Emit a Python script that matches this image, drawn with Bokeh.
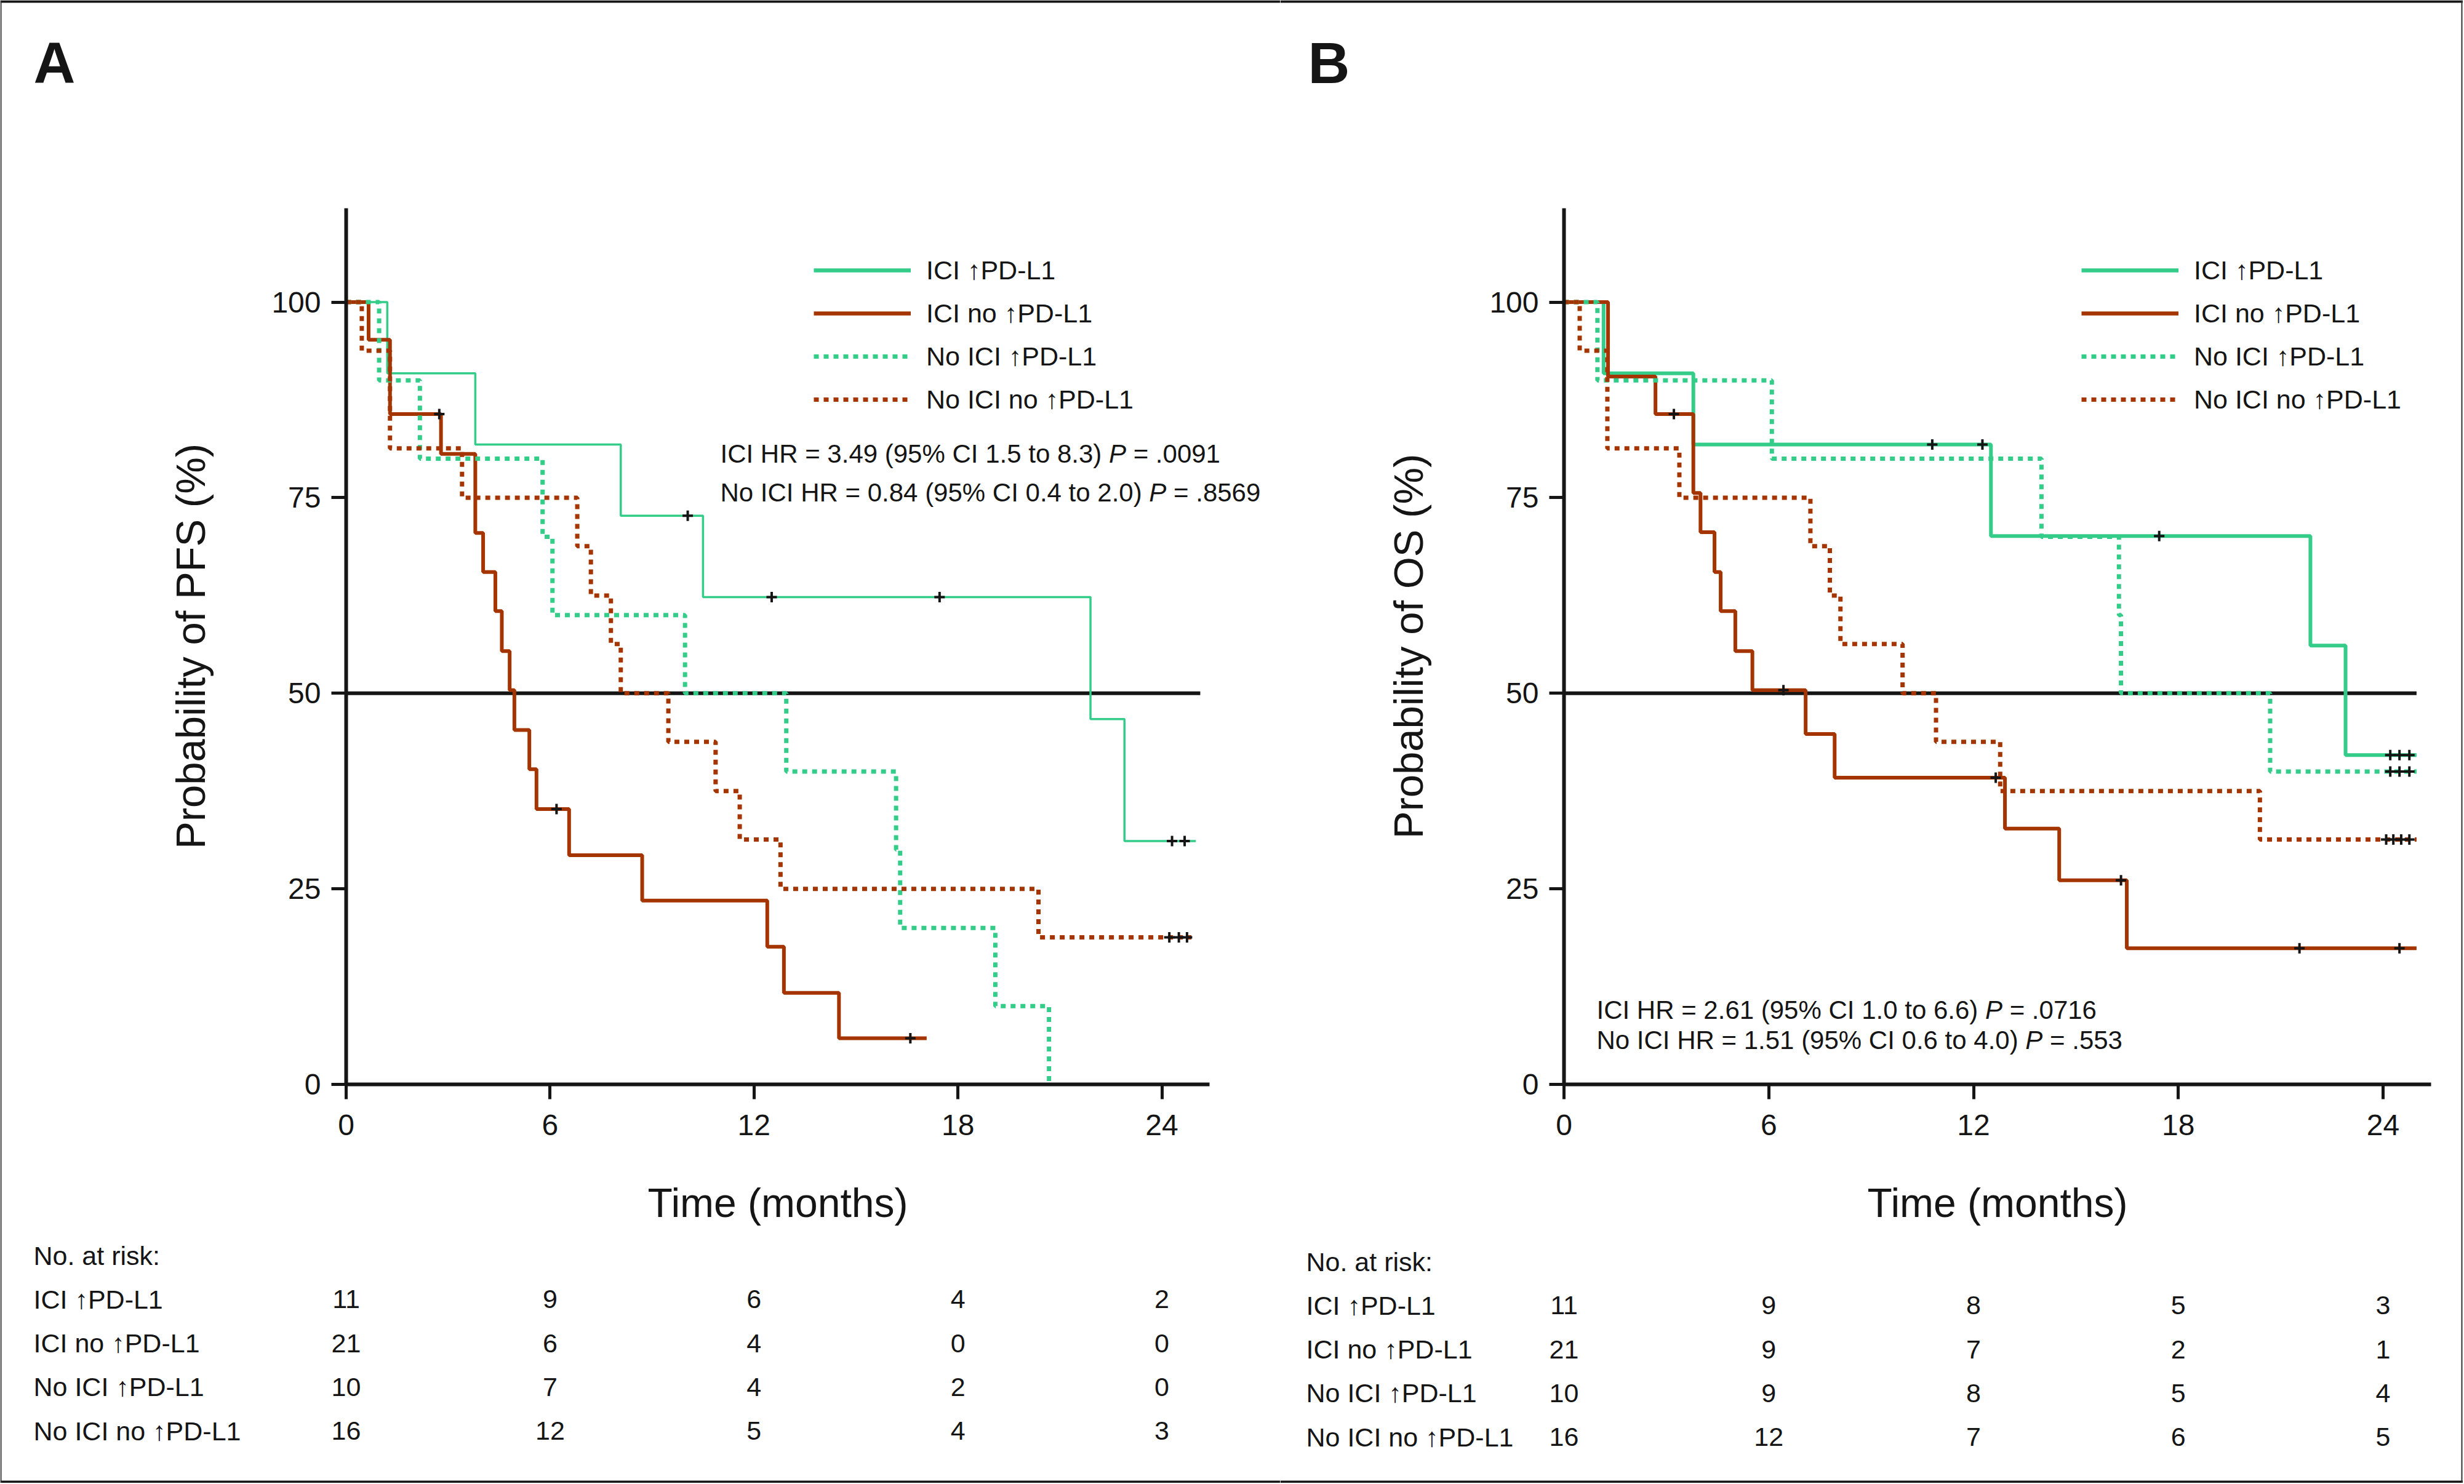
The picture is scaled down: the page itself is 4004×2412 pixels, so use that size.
from bokeh.plotting import figure
from bokeh.models import Range1d, FixedTicker, Legend, LegendItem, Label, ColumnDataSource, Span
from bokeh.layouts import row
from bokeh.embed import file_html
from bokeh.resources import INLINE
from bokeh.core.properties import value

# ---------------------------------------------------------------- data
TICKS_X = [0, 6, 12, 18, 24]
TICKS_Y = [0, 25, 50, 75, 100]
GROUPS = ["ICI \u2191PD-L1", "ICI no \u2191PD-L1", "No ICI \u2191PD-L1", "No ICI no \u2191PD-L1"]
RISK_HEADER = "No. at risk:"
RISK_TIMES = [0, 6, 12, 18, 24]

# Panel A - progression-free survival (months, %)
pfs_ici_hi_t = [1.21, 3.80, 8.08, 10.50, 21.90, 22.90]
pfs_ici_hi_s = [90.9, 81.8, 72.7, 62.3, 46.7, 31.1]
pfs_ici_hi_c = [10.05, 12.52, 17.46, 24.30, 24.67]
pfs_ici_hi_end = 25.0

pfs_ici_lo_t = [0.66, 1.29, 2.79, 3.80, 4.03, 4.39, 4.58, 4.81, 4.95, 5.39, 5.60, 6.56, 8.71, 12.39, 12.88, 14.50]
pfs_ici_lo_s = [95.2, 85.7, 80.6, 70.5, 65.5, 60.5, 55.4, 50.4, 45.3, 40.3, 35.2, 29.3, 23.5, 17.6, 11.7, 5.9]
pfs_ici_lo_c = [2.74, 6.19, 16.60]
pfs_ici_lo_end = 17.08

pfs_no_hi_t = [0.97, 2.17, 5.78, 6.07, 9.97, 12.95, 16.18, 16.30, 19.10, 20.68]
pfs_no_hi_s = [90.0, 80.0, 70.0, 60.0, 50.0, 40.0, 30.0, 20.0, 10.0, 0.0]
pfs_no_hi_c = []
pfs_no_hi_end = 20.68

pfs_no_lo_t = [0.46, 1.29, 3.41, 6.80, 7.20, 7.79, 8.08, 9.48, 10.87, 11.58, 12.78, 20.37]
pfs_no_lo_s = [93.8, 81.3, 75.0, 68.8, 62.5, 56.3, 50.0, 43.8, 37.5, 31.3, 25.0, 18.8]
pfs_no_lo_c = [24.22, 24.50, 24.74]
pfs_no_lo_end = 24.87

pfs_risk = [[11, 9, 6, 4, 2], [21, 6, 4, 0, 0], [10, 7, 4, 2, 0], [16, 12, 5, 4, 3]]
pfs_hr = [("ICI HR = 3.49 (95% CI 1.5 to 8.3)", "= .0091"),
          ("No ICI HR = 0.84 (95% CI 0.4 to 2.0)", "= .8569")]
pfs_ref_end = 25.13

# Panel B - overall survival (months, %)
os_ici_hi_t = [1.16, 3.79, 12.51, 21.87, 22.90]
os_ici_hi_s = [90.9, 81.8, 70.1, 56.1, 42.1]
os_ici_hi_c = [10.79, 12.26, 17.44, 24.21, 24.48, 24.77]
os_ici_hi_end = 24.98

os_ici_lo_t = [1.29, 2.68, 3.79, 4.00, 4.41, 4.59, 5.02, 5.52, 7.08, 7.93, 12.92, 14.51, 16.49]
os_ici_lo_s = [90.5, 85.7, 75.6, 70.6, 65.5, 60.5, 55.4, 50.4, 44.8, 39.2, 32.7, 26.1, 17.4]
os_ici_lo_c = [3.22, 6.43, 12.65, 16.32, 21.55, 24.48]
os_ici_lo_end = 24.98

os_no_hi_t = [0.98, 6.09, 13.99, 16.26, 16.32, 20.69]
os_no_hi_s = [90.0, 80.0, 70.0, 60.0, 50.0, 40.0]
os_no_hi_c = [24.21, 24.48, 24.77]
os_no_hi_end = 24.98

os_no_lo_t = [0.46, 1.27, 3.38, 7.22, 7.79, 8.10, 9.92, 10.90, 12.78, 20.39]
os_no_lo_s = [93.8, 81.3, 75.0, 68.8, 62.5, 56.3, 50.0, 43.8, 37.5, 31.3]
os_no_lo_c = [24.09, 24.30, 24.53, 24.77]
os_no_lo_end = 24.98

os_risk = [[11, 9, 8, 5, 3], [21, 9, 7, 2, 1], [10, 9, 8, 5, 4], [16, 12, 7, 6, 5]]
os_hr = [("ICI HR = 2.61 (95% CI 1.0 to 6.6)", "= .0716"),
         ("No ICI HR = 1.51 (95% CI 0.6 to 4.0)", "= .553")]
os_ref_end = 24.98

# ---------------------------------------------------------------- style / layout (page pixels)
FONT = "Liberation Sans"
GREEN = "#33CC88"
RED = "#A53500"
INK = "#151515"
X_MAX, Y_MAX = 25.4, 112
PAGE_TOP, FIG_H = 0, 2410
ORIGIN_Y = 1762          # page y of 0 %
PX_PER_PCT = 12.714
TOTAL_W = 4002

ARIAL = {' ': 278, '(': 333, ')': 333, '%': 889, '.': 278, '=': 584, 'C': 722, 'H': 722,
         'I': 278, 'N': 722, 'R': 722, 'o': 556, 't': 278, 'P': 667}


def text_w(s, size):
    return sum(ARIAL.get(ch, 556) for ch in s) * size / 1000.0


def surv_at(ts, ss, t):
    s = 100.0
    for ti, si in zip(ts, ss):
        if ti <= t:
            s = si
    return s


def panel(letter, letter_px, page_left, width, origin_x, px_per_month, ylabel, series, ref_end,
          risk, hr_lines, hr_pos, legend_pos, risk_pos):
    def dx(px):
        return (px - origin_x) / px_per_month

    def dy(py):
        return (ORIGIN_Y - py) / PX_PER_PCT

    p = figure(width=width, height=FIG_H,
               x_range=Range1d(dx(page_left), dx(page_left + width)),
               y_range=Range1d(dy(PAGE_TOP + FIG_H), dy(PAGE_TOP)),
               output_backend="svg", toolbar_location=None,
               min_border_left=0, min_border_right=0, min_border_top=0, min_border_bottom=0)
    p.outline_line_color = None
    p.grid.visible = False
    p.background_fill_color = "white"
    p.border_fill_color = "white"

    # picture frame (thick top/bottom, thin sides)
    p.add_layout(Span(location=dy(2), dimension="width", line_color=INK, line_width=4))
    p.add_layout(Span(location=dy(2408), dimension="width", line_color=INK, line_width=4))
    if page_left == 0:
        p.add_layout(Span(location=dx(1), dimension="height", line_color="#333333", line_width=2))
    else:
        p.add_layout(Span(location=dx(TOTAL_W - 2), dimension="height", line_color="#333333", line_width=2))

    # axes crossing at the origin
    p.xaxis.fixed_location = 0
    p.yaxis.fixed_location = 0
    p.xaxis.bounds = (0, X_MAX)
    p.yaxis.bounds = (0, Y_MAX)
    p.xaxis.ticker = FixedTicker(ticks=TICKS_X)
    p.yaxis.ticker = FixedTicker(ticks=TICKS_Y)
    p.xaxis.axis_label = "Time (months)"
    p.yaxis.axis_label = ylabel
    for ax in (p.xaxis, p.yaxis):
        ax.axis_line_width = 6
        ax.axis_line_color = INK
        ax.major_tick_line_width = 5
        ax.major_tick_line_color = INK
        ax.major_tick_out = 24
        ax.major_tick_in = 0
        ax.minor_tick_line_color = None
        ax.major_label_text_font = FONT
        ax.major_label_text_font_size = "48px"
        ax.major_label_text_color = INK
        ax.axis_label_text_font = FONT
        ax.axis_label_text_font_style = "normal"
        ax.axis_label_text_color = INK
    p.xaxis.axis_label_text_font_size = "66px"
    p.yaxis.axis_label_text_font_size = "67px"
    p.xaxis.major_label_standoff = 25
    p.xaxis.axis_label_standoff = 70
    p.yaxis.major_label_standoff = 17
    p.yaxis.axis_label_standoff = 91

    # 50 % reference line
    p.line(x=[0, ref_end], y=[50, 50], line_color=INK, line_width=6)

    cx, cy = [], []
    for ts, ss, cs, end, color, dash, lw in series:
        xs = [0.0] + list(ts) + [end]
        ys = [100.0] + list(ss) + [ss[-1]]
        p.step(x=xs, y=ys, mode="after", line_color=color, line_width=lw, line_dash=dash)
        for c in cs:
            cx.append(c)
            cy.append(surv_at(ts, ss, c))
    p.scatter(x=cx, y=cy, marker="cross", size=17, line_width=4, line_color=INK)

    # legend: key-only renderers (one point -> nothing drawn in the plot)
    items = []
    styles = [(GREEN, "solid", 6.5), (RED, "solid", 6.5), (GREEN, "8 8", 7), (RED, "8 8", 7)]
    for g, (color, dash, lw), s in zip(GROUPS, styles, series):
        r = p.line(x=[s[0][0]], y=[s[1][0]], line_color=color, line_width=lw, line_dash=dash)
        items.append(LegendItem(label=g, renderers=[r]))
    lx, ly_top = legend_pos
    n_items = len(items)
    gh, sp = 50, 20
    leg_h = n_items * gh + (n_items - 1) * sp
    legend = Legend(items=items,
                    location=(lx - page_left, (PAGE_TOP + FIG_H) - (ly_top + leg_h)),
                    glyph_width=158, glyph_height=gh, label_height=gh, label_standoff=25,
                    spacing=sp, padding=0, margin=0, border_line_color=None,
                    background_fill_alpha=0, label_text_font=FONT,
                    label_text_font_size="43px", label_text_color=INK)
    p.add_layout(legend)

    # HR annotations (italic P)
    hx, hy0, hpitch = hr_pos
    fs = 42
    for i, (main, pval) in enumerate(hr_lines):
        yy = dy(hy0 + i * hpitch)
        xx = dx(hx)
        off_p = text_w(main + " ", fs)
        off_v = text_w(main + " P ", fs)
        p.add_layout(Label(x=xx, y=yy, text=main, text_font=FONT, text_font_size=f"{fs}px",
                           text_baseline="middle", text_color=INK))
        p.add_layout(Label(x=xx, y=yy, x_offset=off_p, text="P", text_font=FONT,
                           text_font_size=f"{fs}px", text_font_style="italic",
                           text_baseline="middle", text_color=INK))
        p.add_layout(Label(x=xx, y=yy, x_offset=off_v, text=pval, text_font=FONT,
                           text_font_size=f"{fs}px", text_baseline="middle", text_color=INK))

    # panel letter
    p.add_layout(Label(x=dx(letter_px), y=dy(102), text=letter, text_font=FONT,
                       text_font_size="94px", text_font_style="bold",
                       text_baseline="middle", text_color=INK))

    # number-at-risk table
    label_px, head_py, pitch = risk_pos
    rows = [RISK_HEADER] + GROUPS
    row_y = [dy(head_py + i * pitch) for i in range(len(rows))]
    p.text(x=[dx(label_px)] * len(rows), y=row_y, text=rows, text_align="left",
           text_baseline="middle", text_font=value(FONT), text_font_size="43px", text_color=INK)
    xs, ys, ts = [], [], []
    for gy, counts in zip(row_y[1:], risk):
        for t, c in zip(RISK_TIMES, counts):
            xs.append(t)
            ys.append(gy)
            ts.append(str(c))
    src = ColumnDataSource(dict(x=xs, y=ys, t=ts))
    p.text(x="x", y="y", text="t", source=src, text_align="center", text_baseline="middle",
           text_font=value(FONT), text_font_size="43px", text_color=INK)
    return p


seriesA = [
    (pfs_ici_hi_t, pfs_ici_hi_s, pfs_ici_hi_c, pfs_ici_hi_end, GREEN, "solid", 3.5),
    (pfs_ici_lo_t, pfs_ici_lo_s, pfs_ici_lo_c, pfs_ici_lo_end, RED, "solid", 6),
    (pfs_no_hi_t, pfs_no_hi_s, pfs_no_hi_c, pfs_no_hi_end, GREEN, "8 8", 7),
    (pfs_no_lo_t, pfs_no_lo_s, pfs_no_lo_c, pfs_no_lo_end, RED, "8 8", 7),
]
seriesB = [
    (os_ici_hi_t, os_ici_hi_s, os_ici_hi_c, os_ici_hi_end, GREEN, "solid", 6),
    (os_ici_lo_t, os_ici_lo_s, os_ici_lo_c, os_ici_lo_end, RED, "solid", 6),
    (os_no_hi_t, os_no_hi_s, os_no_hi_c, os_no_hi_end, GREEN, "8 8", 7),
    (os_no_lo_t, os_no_lo_s, os_no_lo_c, os_no_lo_end, RED, "8 8", 7),
]

W_A = 2080
pA = panel("A", 54, 0, W_A, 562, 55.23, "Probability of PFS (%)", seriesA, pfs_ref_end, pfs_risk,
           pfs_hr, (1170, 737, 63), (1322, 414), (54, 2040, 71.3))
pB = panel("B", 2125, W_A, TOTAL_W - W_A, 2541, 55.46, "Probability of OS (%)", seriesB, os_ref_end,
           os_risk, os_hr, (2594, 1641, 49), (3382, 414), (2122, 2050, 71.3))

layout = row(pA, pB)

open("out.html", "w").write(file_html(layout, INLINE))
